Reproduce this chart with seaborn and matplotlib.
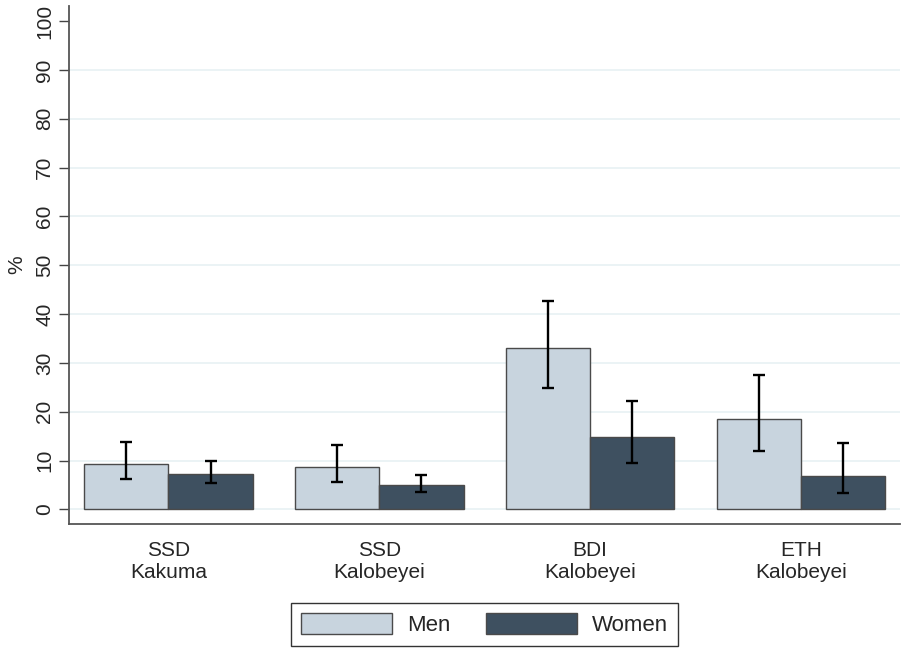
import matplotlib
matplotlib.use("Agg")
import matplotlib.pyplot as plt
import seaborn as sns
import pandas as pd

categories = ["SSD\nKakuma", "SSD\nKalobeyei", "BDI\nKalobeyei", "ETH\nKalobeyei"]
groups = ["Men", "Women"]
men = [9.3, 8.7, 33.1, 18.5]
men_lo = [6.2, 5.65, 24.9, 11.9]
men_hi = [13.8, 13.2, 42.6, 27.5]
women = [7.2, 5.0, 14.8, 6.9]
women_lo = [5.3, 3.5, 9.5, 3.4]
women_hi = [9.9, 7.0, 22.2, 13.6]
yticks = [0, 10, 20, 30, 40, 50, 60, 70, 80, 90, 100]

sns.set_style("white")
plt.rcParams['font.family'] = ['Liberation Sans', 'DejaVu Sans']

df = pd.DataFrame({
    "cat": categories * 2,
    "sex": [groups[0]] * 4 + [groups[1]] * 4,
    "val": men + women,
})

colors = {"Men": "#c8d4de", "Women": "#3e5060"}
FS = 15

fig = plt.figure(figsize=(9.02, 6.48), dpi=100)
ax = fig.add_axes([69.3 / 902, (648 - 524) / 648, (900 - 69.3) / 902, (524 - 6) / 648])

# gridlines
for v in yticks[:-1]:
    ax.axhline(v, color="#e8f1f3", lw=1.2, zorder=0)

sns.barplot(data=df, x="cat", y="val", hue="sex", order=categories, hue_order=groups,
            palette=colors, errorbar=None, width=0.8, edgecolor="#4a4a4a", linewidth=1.0,
            saturation=1, ax=ax, zorder=2)

los = [men_lo, women_lo]
his = [men_hi, women_hi]
for cont, lo, hi in zip(ax.containers, los, his):
    xs = [p.get_x() + p.get_width() / 2 for p in cont.patches]
    for x, l, h in zip(xs, lo, hi):
        ax.errorbar([x], [(l + h) / 2], yerr=[[(h - l) / 2], [(h - l) / 2]], fmt="none",
                    ecolor="black", elinewidth=1.7, capsize=4.5, capthick=1.7, zorder=3)

ax.set_xlim(-0.47, 3.47)
ax.set_ylim(-3, 103.1)
ax.set_yticks(yticks)
ax.set_yticklabels([str(t) for t in yticks], rotation=90, va="center", fontsize=FS)
ax.tick_params(axis="y", length=7, width=1, color="#444444", pad=4, left=True)
ax.tick_params(axis="x", length=0, pad=12, labelsize=FS)
ax.set_xlabel("")
ax.set_ylabel("%", fontsize=FS, labelpad=6)

for s in ["top", "right"]:
    ax.spines[s].set_visible(False)
for s in ["left", "bottom"]:
    ax.spines[s].set_color("#555555")
    ax.spines[s].set_linewidth(1.3)

handles, labels = ax.get_legend_handles_labels()
ax.legend_.remove()
leg = fig.legend(handles, labels, loc="upper center", bbox_to_anchor=(484.5 / 902, (648 - 603) / 648),
                 ncol=2, fontsize=16, frameon=True, fancybox=False, edgecolor="black",
                 handlelength=4.1, handleheight=1.1, handletextpad=0.68, columnspacing=1.6,
                 borderpad=0.45, borderaxespad=0)
leg.get_frame().set_linewidth(1.0)

fig.savefig("out.png", dpi=100)
